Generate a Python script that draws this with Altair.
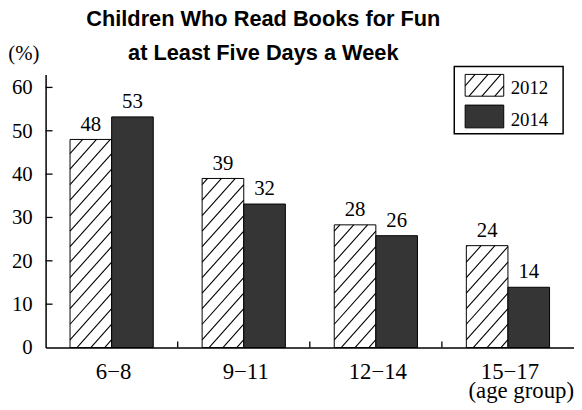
import math
import altair as alt
import pandas as pd

# ---------------- data ----------------
groups = ["6−8", "9−11", "12−14", "15−17"]
years = ["2012", "2014"]
vals_2012 = [48.0, 39.0, 28.3, 23.5]
vals_2014 = [53.2, 33.1, 25.8, 13.9]
labels_2012 = ["48", "39", "28", "24"]
labels_2014 = ["53", "32", "26", "14"]
y_ticks = [0, 10, 20, 30, 40, 50, 60]

# ---------------- layout ----------------
W, H = 534, 276
YMAX = 63
XMAX = len(groups)
BAR = 0.315
PXX = W / XMAX
PXY = H / YMAX
SERIF = "Liberation Serif"
TITLE_FONT = "Liberation Sans"
DARK = "#353535"

XS = alt.Scale(domain=[0, XMAX], nice=False, zero=False)
YS = alt.Scale(domain=[0, YMAX], nice=False, zero=False)
XA = alt.Axis(labels=False, ticks=False, grid=False, title=None,
              domainColor="black", domainWidth=1.5)
YA = alt.Axis(labels=False, ticks=False, grid=False, title=None,
              domainColor="black", domainWidth=1.5)

rows = []
for i, g in enumerate(groups):
    for yr, vals, labs, off in [("2012", vals_2012, labels_2012, -BAR),
                                ("2014", vals_2014, labels_2014, 0.0)]:
        x0 = i + 0.5 + off
        rows.append(dict(group=g, year=yr, x0=x0, x1=x0 + BAR, xc=x0 + BAR / 2,
                         v=vals[i], label=labs[i]))
bars = pd.DataFrame(rows)
group_df = pd.DataFrame({"group": groups, "gc": [i + 0.5 for i in range(XMAX)]})


def hatch(wpx, hpx, sp=14.0, sl=1.12, ph=7.0):
    segs = []
    kmin = math.floor((-hpx / sl - ph) / sp) - 1
    kmax = math.ceil((wpx - ph) / sp) + 1
    for k in range(kmin, kmax + 1):
        c = ph + k * sp
        ylo = max(0.0, sl * (0.0 - c))
        yhi = min(hpx, sl * (wpx - c))
        if yhi - ylo > 0.8:
            segs.append((c + ylo / sl, ylo, c + yhi / sl, yhi))
    return segs


hrows = []
for _, r in bars[bars.year == "2012"].iterrows():
    for (ax, ay, bx, by) in hatch(BAR * PXX, r.v * PXY):
        hrows.append(dict(hx0=r.x0 + ax / PXX, hy0=ay / PXY,
                          hx1=r.x0 + bx / PXX, hy1=by / PXY))
hatch_df = pd.DataFrame(hrows)


# legend geometry in plot pixels (y down), converted to data units
def dx(px):
    return px / PXX


def dy(py):
    return (H - py) / PXY


LX0, LX1, LY0, LY1 = 413, 523, -8, 60
SW_X0, SW_X1 = 424, 463
sw = [(years[0], 0, 22), (years[1], 31, 54)]
leg_sw = pd.DataFrame([dict(year=y, sx0=dx(SW_X0), sx1=dx(SW_X1), sy0=dy(a), sy1=dy(b),
                            tx=dx(470), ty=dy(b - 2)) for y, a, b in sw])
lh = []
for (ax, ay, bx, by) in hatch(SW_X1 - SW_X0, 22, sp=13.0, sl=1.15, ph=4.0):
    lh.append(dict(hx0=dx(SW_X0 + ax), hy0=dy(22 - ay), hx1=dx(SW_X0 + bx), hy1=dy(22 - by)))
leg_h = pd.DataFrame(lh)
leg_box = pd.DataFrame([dict(bx0=dx(LX0), bx1=dx(LX1), by0=dy(LY0), by1=dy(LY1))])

FILL = alt.Scale(domain=years, range=["white", DARK])


def X(f):
    return alt.X(f, scale=XS, axis=XA)


def Y(f):
    return alt.Y(f, scale=YS, axis=YA)


# ---------------- marks ----------------
base_bars = alt.Chart(bars).mark_rect(stroke="black", strokeWidth=1).encode(
    x=X("x0:Q"), x2="x1:Q", y=Y("v:Q"), y2=alt.datum(0),
    fill=alt.Fill("year:N", scale=FILL, legend=None),
)

hatch_layer = alt.Chart(hatch_df).mark_rule(color="black", strokeWidth=1.1).encode(
    x=X("hx0:Q"), x2="hx1:Q", y=Y("hy0:Q"), y2="hy1:Q",
)

value_labels = alt.Chart(bars).mark_text(
    font=SERIF, fontSize=21, baseline="alphabetic", dy=-9, color="black"
).encode(x=X("xc:Q"), y=Y("v:Q"), text="label:N")

ytick_df = pd.DataFrame({"t": y_ticks})
ytick_layer = alt.Chart(pd.DataFrame({"t": y_ticks[1:]})).mark_rule(
    color="black", strokeWidth=1.3
).encode(y=Y("t:Q"), x=alt.value(0), x2=alt.value(7))

ylabel_layer = alt.Chart(ytick_df).mark_text(
    font=SERIF, fontSize=21, align="right", baseline="middle", color="black", dy=1
).encode(y=Y("t:Q"), x=alt.value(-13), text="t:Q")

xtick_df = pd.DataFrame({"b": list(range(1, XMAX))})
xtick_layer = alt.Chart(xtick_df).mark_rule(color="black", strokeWidth=1.3).encode(
    x=X("b:Q"), y=alt.value(H), y2=alt.value(H - 6)
)

xlabel_layer = alt.Chart(group_df).mark_text(
    font=SERIF, fontSize=23, align="center", baseline="alphabetic", color="black", dx=2
).encode(x=X("gc:Q"), y=alt.value(H + 32), text="group:N")

xtitle = alt.Chart(pd.DataFrame({"t": ["(age group)"]})).mark_text(
    font=SERIF, fontSize=23, align="right", baseline="alphabetic", color="black"
).encode(x=alt.value(W), y=alt.value(H + 51), text="t:N")

ytitle = alt.Chart(pd.DataFrame({"t": ["(%)"]})).mark_text(
    font=SERIF, fontSize=21, align="center", baseline="alphabetic", color="black"
).encode(x=alt.value(-22), y=alt.value(-15), text="t:N")

legend_box = alt.Chart(leg_box).mark_rect(fill="white", stroke="black", strokeWidth=1.5).encode(
    x=X("bx0:Q"), x2="bx1:Q", y=Y("by0:Q"), y2="by1:Q",
)
legend_sw = alt.Chart(leg_sw).mark_rect(stroke="black", strokeWidth=1).encode(
    x=X("sx0:Q"), x2="sx1:Q", y=Y("sy0:Q"), y2="sy1:Q",
    fill=alt.Fill("year:N", scale=FILL, legend=None),
)
legend_hatch = alt.Chart(leg_h).mark_rule(color="black", strokeWidth=1.1).encode(
    x=X("hx0:Q"), x2="hx1:Q", y=Y("hy0:Q"), y2="hy1:Q",
)
legend_text = alt.Chart(leg_sw).mark_text(
    font=SERIF, fontSize=19, align="left", baseline="alphabetic", color="black"
).encode(x=X("tx:Q"), y=Y("ty:Q"), text="year:N")

chart = alt.layer(
    base_bars, hatch_layer, value_labels, ytick_layer, ylabel_layer, xtick_layer,
    xlabel_layer, xtitle, ytitle, legend_box, legend_sw, legend_hatch, legend_text,
).properties(
    width=W, height=H,
    padding={"left": 38, "top": 65, "right": 0, "bottom": 60},
    autosize=alt.AutoSizeParams(type="none"),
    title=alt.TitleParams(
        ["Children Who Read Books for Fun", "at Least Five Days a Week"],
        font=TITLE_FONT, fontSize=22, fontWeight="bold", color="black",
        anchor="middle", dx=-47, dy=0, lineHeight=34, offset=-22,
    ),
).configure_view(stroke=None)

chart.save("out.html", embed_options={"renderer": "svg", "actions": False})
